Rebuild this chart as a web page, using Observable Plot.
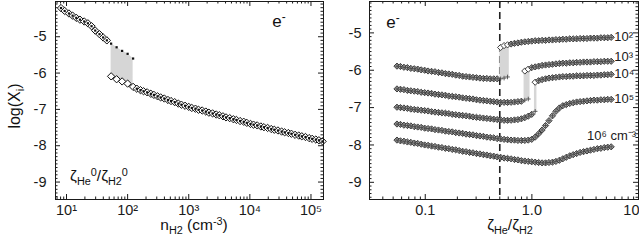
<!DOCTYPE html>
<html><head><meta charset="utf-8">
<script src="https://cdn.jsdelivr.net/npm/d3@7"></script>
<script src="https://cdn.jsdelivr.net/npm/@observablehq/plot@0.6"></script>
<style>
html,body{margin:0;padding:0;background:#fff;overflow:hidden}
#wrap{position:relative;width:639px;height:243px;font-family:"Liberation Sans",Arial,sans-serif;color:#111;overflow:hidden}
#wrap svg{position:absolute;top:0}
.lbl{position:absolute;white-space:nowrap;line-height:1;transform:translate(-50%,-50%)}
.sb{font-size:0.7em;position:relative;top:0.38em}
.sp{font-size:0.7em;position:relative;top:-0.48em}
</style></head><body><div id="wrap"></div>
<script>
// ---------- LEFT PANEL DATA: log10(n_H2) and log(X_e) ----------
const nUpperLog = [0.91, 0.97, 1.04, 1.10, 1.16, 1.22, 1.29, 1.35, 1.41, 1.47, 1.54, 1.60, 1.66];
const xeUpper   = [-4.21, -4.29, -4.36, -4.42, -4.48, -4.53, -4.58, -4.63, -4.71, -4.83, -4.93, -5.02, -5.10];
const nBistLog  = [1.73, 1.82, 1.91, 2.00, 2.09];
const xeBistHigh = [-5.19, -5.29, -5.39, -5.47, -5.60];
const xeBistLow  = [-6.09, -6.17, -6.23, -6.29, -6.38];
const nLowerLog = [2.15, 2.21, 2.26, 2.32, 2.38, 2.43, 2.49, 2.54, 2.60, 2.66, 2.71, 2.77, 2.83, 2.88, 2.94, 3.00, 3.05, 3.11, 3.16, 3.22, 3.28, 3.33, 3.39, 3.45, 3.50, 3.56, 3.61, 3.67, 3.73, 3.78, 3.84, 3.90, 3.95, 4.01, 4.06, 4.12, 4.18, 4.23, 4.29, 4.35, 4.40, 4.46, 4.52, 4.57, 4.63, 4.68, 4.74, 4.80, 4.85, 4.91, 4.97, 5.02, 5.08, 5.13, 5.19];
const xeLower   = [-6.43, -6.47, -6.50, -6.53, -6.57, -6.60, -6.64, -6.67, -6.70, -6.74, -6.77, -6.80, -6.84, -6.87, -6.90, -6.93, -6.96, -6.98, -7.01, -7.03, -7.06, -7.09, -7.11, -7.14, -7.16, -7.19, -7.22, -7.24, -7.27, -7.29, -7.32, -7.34, -7.37, -7.40, -7.42, -7.44, -7.47, -7.49, -7.51, -7.54, -7.56, -7.58, -7.61, -7.63, -7.65, -7.67, -7.70, -7.72, -7.74, -7.76, -7.79, -7.81, -7.83, -7.85, -7.88];

// ---------- RIGHT PANEL DATA: zeta_He/zeta_H2 and log(X_e) per n_H2 ----------
const zeta = [0.0543, 0.0585, 0.0631, 0.068, 0.0732, 0.0789, 0.085, 0.0916, 0.0987, 0.1063, 0.1146, 0.1234, 0.133, 0.1433, 0.1544, 0.1663, 0.1792, 0.1931, 0.2081, 0.2242, 0.2415, 0.2602, 0.2804, 0.3021, 0.3255, 0.3508, 0.3779, 0.4072, 0.4388, 0.4728, 0.5093, 0.5488, 0.5913, 0.6371, 0.6865, 0.7396, 0.7969, 0.8587, 0.9252, 0.9968, 1.074, 1.157, 1.247, 1.343, 1.447, 1.56, 1.68, 1.811, 1.951, 2.102, 2.265, 2.44, 2.629, 2.833, 3.052, 3.289, 3.543, 3.818, 4.114, 4.433, 4.775, 5.145, 5.544];
const e2Low  = [-5.89, -5.90, -5.92, -5.93, -5.95, -5.96, -5.97, -5.99, -6.00, -6.02, -6.03, -6.04, -6.06, -6.07, -6.09, -6.10, -6.11, -6.13, -6.14, -6.16, -6.17, -6.18, -6.19, -6.20, -6.21, -6.22, -6.22, -6.23, -6.23, -6.23, -6.23, -6.21, -6.18];
const e2High = [-5.39, -5.34, -5.32, -5.30, -5.28, -5.27, -5.25, -5.24, -5.23, -5.22, -5.21, -5.21, -5.20, -5.20, -5.19, -5.19, -5.18, -5.18, -5.17, -5.17, -5.16, -5.16, -5.16, -5.15, -5.15, -5.15, -5.14, -5.14, -5.14, -5.13, -5.13, -5.13, -5.12];
const e3Low  = [-6.50, -6.51, -6.52, -6.54, -6.55, -6.56, -6.57, -6.59, -6.60, -6.61, -6.62, -6.64, -6.65, -6.66, -6.67, -6.69, -6.70, -6.71, -6.72, -6.74, -6.75, -6.76, -6.77, -6.79, -6.80, -6.81, -6.82, -6.83, -6.84, -6.85, -6.86, -6.86, -6.86, -6.86, -6.85, -6.84, -6.83, -6.80, -6.77];
const e3High = [-6.02, -5.97, -5.93, -5.91, -5.89, -5.87, -5.86, -5.85, -5.84, -5.83, -5.82, -5.81, -5.81, -5.80, -5.80, -5.79, -5.79, -5.78, -5.78, -5.78, -5.77, -5.77, -5.77, -5.76, -5.76, -5.76];
const e4Low  = [-6.99, -7.00, -7.01, -7.02, -7.04, -7.05, -7.06, -7.07, -7.08, -7.09, -7.11, -7.12, -7.13, -7.14, -7.15, -7.16, -7.18, -7.19, -7.20, -7.21, -7.22, -7.23, -7.25, -7.26, -7.27, -7.28, -7.29, -7.30, -7.31, -7.32, -7.33, -7.34, -7.34, -7.34, -7.33, -7.32, -7.30, -7.27, -7.23, -7.18, -7.10];
const e4High = [-6.32, -6.28, -6.25, -6.23, -6.21, -6.20, -6.19, -6.18, -6.17, -6.17, -6.16, -6.16, -6.15, -6.15, -6.15, -6.14, -6.14, -6.14, -6.13, -6.13, -6.12, -6.12, -6.11];
const e5 = [-7.44, -7.45, -7.47, -7.48, -7.49, -7.51, -7.52, -7.53, -7.55, -7.56, -7.57, -7.59, -7.60, -7.61, -7.63, -7.64, -7.65, -7.67, -7.68, -7.69, -7.71, -7.72, -7.73, -7.75, -7.76, -7.77, -7.79, -7.80, -7.81, -7.83, -7.84, -7.85, -7.86, -7.87, -7.87, -7.88, -7.88, -7.88, -7.87, -7.85, -7.79, -7.70, -7.60, -7.48, -7.35, -7.22, -7.10, -7.01, -6.95, -6.92, -6.89, -6.87, -6.85, -6.84, -6.83, -6.82, -6.81, -6.80, -6.80, -6.79, -6.79, -6.78, -6.78];
const e6 = [-7.87, -7.89, -7.90, -7.92, -7.93, -7.95, -7.96, -7.98, -8.00, -8.01, -8.03, -8.04, -8.06, -8.07, -8.09, -8.10, -8.12, -8.13, -8.15, -8.17, -8.18, -8.20, -8.21, -8.23, -8.24, -8.26, -8.27, -8.29, -8.30, -8.32, -8.33, -8.35, -8.36, -8.37, -8.39, -8.40, -8.42, -8.43, -8.44, -8.45, -8.46, -8.47, -8.48, -8.48, -8.47, -8.46, -8.44, -8.41, -8.37, -8.33, -8.29, -8.26, -8.23, -8.20, -8.18, -8.16, -8.14, -8.12, -8.10, -8.09, -8.07, -8.06, -8.05];
// index on the zeta grid where the upper branch begins (diamond solution) and where the second (+) solution joins it
const highStart = [30, 37, 40];
const plusJoin  = [33, 39, 41];
const curveLabels = ["10²", "10³", "10⁴", "10⁵", "10⁶ cm⁻³"];
const zetaCrit = [0.5];

// ---------- TICKS ----------
const nTickValues = [1e1, 1e2, 1e3, 1e4, 1e5];
const nTickLabels = ["10¹", "10²", "10³", "10⁴", "10⁵"];
const zTickValues = [0.1, 1, 10];
const zTickLabels = ["0.1", "1.0", "10"];
const yTickValues = [-9, -8, -7, -6, -5];
const yTickLabels = ["-9", "-8", "-7", "-6", "-5"];

// ---------- build rows ----------
const leftDiamonds = [
  ...d3.zip(nUpperLog, xeUpper),
  ...d3.zip(nBistLog, xeBistLow),
  ...d3.zip(nLowerLog, xeLower)
].map(([l, v]) => ({n: 10 ** l, v}));
const leftDots = [
  ...d3.zip(nUpperLog, xeUpper),
  ...d3.zip(nBistLog, xeBistHigh),
  ...d3.zip(nLowerLog, xeLower)
].map(([l, v]) => ({n: 10 ** l, v}));
const leftBand = d3.zip(nBistLog, xeBistLow, xeBistHigh).map(([l, lo, hi]) => ({n: 10 ** l, lo, hi}));

const bist = [[e2Low, e2High], [e3Low, e3High], [e4Low, e4High]];
const rDiamonds = [], rPlus = [], rBand = [], rEnds = [];
bist.forEach(([low, high], c) => {
  const hs = highStart[c], pj = plusJoin[c];
  zeta.forEach((z, k) => {
    const both = !(k >= hs && k < pj);
    rDiamonds.push({z, v: k >= hs ? high[k - hs] : low[k], c, both});
    rPlus.push({z, v: k >= pj ? high[k - hs] : low[k], c});
    if (!both) rBand.push({z, lo: low[k], hi: high[k - hs], c});
  });
  rEnds.push({z: zeta[zeta.length - 1], v: high[high.length - 1], t: curveLabels[c]});
});
[e5, e6].forEach((arr, i) => {
  zeta.forEach((z, k) => { rDiamonds.push({z, v: arr[k], c: 3 + i, both: true}); rPlus.push({z, v: arr[k], c: 3 + i}); });
});
rEnds.push({z: zeta[zeta.length - 1], v: e5[e5.length - 1], t: curveLabels[3]});
rEnds.push({z: zeta[zeta.length - 1], v: e6[e6.length - 1], t: curveLabels[4]});

// ---------- helpers ----------
const ink = "#1a1a1a";
function frameTicks(xDomain, xMajor, yDomain, fw, fh) {
  const xMinor = d3.scaleLog().domain(xDomain).ticks().filter(t => !xMajor.some(m => Math.abs(m - t) / m < 1e-9) && t >= xDomain[0] && t <= xDomain[1]);
  const yMinor = d3.ticks(yDomain[0], yDomain[1], 60).filter(t => Math.abs(t - Math.round(t)) > 1e-6);
  const yMajor = d3.ticks(yDomain[0], yDomain[1], 6).filter(t => Math.abs(t - Math.round(t)) < 1e-6);
  const s = {stroke: ink, strokeWidth: 1};
  const big = 5, small = 2.5;
  return [
    Plot.tickX(xMajor, {x: d => d, insetTop: fh - big, ...s}),
    Plot.tickX(xMajor, {x: d => d, insetBottom: fh - big, ...s}),
    Plot.tickX(xMinor, {x: d => d, insetTop: fh - small, ...s}),
    Plot.tickX(xMinor, {x: d => d, insetBottom: fh - small, ...s}),
    Plot.tickY(yMajor, {y: d => d, insetRight: fw - big, ...s}),
    Plot.tickY(yMajor, {y: d => d, insetLeft: fw - big, ...s}),
    Plot.tickY(yMinor, {y: d => d, insetRight: fw - small, ...s}),
    Plot.tickY(yMinor, {y: d => d, insetLeft: fw - small, ...s}),
    Plot.frame({stroke: ink, strokeWidth: 1})
  ];
}
const style = {fontFamily: '"Liberation Sans", Arial, sans-serif', fontSize: "14.5px", color: ink, background: "transparent"};
const TF = 14.5;

// ---------- LEFT PLOT ----------
const H = 243, mT = 1, mB = 44;
const nDomain = [10 ** 0.82, 10 ** 5.205];
const yDomL = [-9.48, -4.03];
const left = Plot.plot({
  width: 330, height: H, marginLeft: 55, marginRight: 7, marginTop: mT, marginBottom: mB,
  x: {type: "log", domain: nDomain},
  y: {domain: yDomL},
  style,
  marks: [
    Plot.areaY(leftBand, {x: "n", y1: "lo", y2: "hi", fill: "#d6d6d6"}),
    Plot.dot(leftDiamonds, {x: "n", y: "v", symbol: "diamond2", r: 3.3, fill: "white", stroke: "#111", strokeWidth: 1}),
    Plot.dot(leftDots, {x: "n", y: "v", symbol: "square", r: 1.25, fill: "#111", stroke: "none"}),
    ...frameTicks(nDomain, nTickValues, yDomL, 268, H - mT - mB),
    Plot.axisX(nTickValues, {anchor: "bottom", tickSize: 0, tickPadding: 5, label: null, fontSize: TF, tickFormat: d => nTickLabels[nTickValues.indexOf(d)]}),
    Plot.axisY(yTickValues, {anchor: "left", tickSize: 0, tickPadding: 9, label: null, fontSize: TF, tickFormat: d => yTickLabels[yTickValues.indexOf(d)]})
  ]
});
left.style.left = "0px";

// ---------- RIGHT PLOT ----------
const zDomain = [0.03, 10];
const yDomR = [-9.46, -4.16];
const zIn = zTickValues.slice(0, 2), zEdge = zTickValues.slice(2);
const right = Plot.plot({
  width: 309, height: H, marginLeft: 39, marginRight: 1, marginTop: mT, marginBottom: mB,
  x: {type: "log", domain: zDomain},
  y: {domain: yDomR},
  style,
  marks: [
    Plot.ruleX(zetaCrit, {x: d => d, stroke: "#222", strokeWidth: 1.6, strokeDasharray: "7,4"}),
    Plot.areaY(rBand, {x: "z", y1: "lo", y2: "hi", z: "c", fill: "#d6d6d6"}),
    Plot.ruleX(rBand, {x: "z", y1: "lo", y2: "hi", stroke: "#d6d6d6", strokeWidth: 2.5}),
    Plot.dot(rDiamonds, {x: "z", y: "v", symbol: "diamond2", r: 2.8, fill: d => d.both ? "#b4b4b4" : "white", stroke: "#2a2a2a", strokeWidth: 0.9}),
    Plot.dot(rPlus, {x: "z", y: "v", symbol: "plus", r: 1.6, stroke: "#4a4a4a", strokeWidth: 0.9}),
    Plot.text(rEnds.slice(0, 1), {x: "z", y: "v", text: "t", textAnchor: "start", dx: 3, dy: -1, fontSize: 13, fill: ink}),
    Plot.text(rEnds.slice(1, 2), {x: "z", y: "v", text: "t", textAnchor: "start", dx: 3, dy: -4, fontSize: 13, fill: ink}),
    Plot.text(rEnds.slice(2, 3), {x: "z", y: "v", text: "t", textAnchor: "start", dx: 3, dy: -1, fontSize: 13, fill: ink}),
    Plot.text(rEnds.slice(3, 4), {x: "z", y: "v", text: "t", textAnchor: "start", dx: 3, dy: -1, fontSize: 13, fill: ink}),
    Plot.text(rEnds.slice(4, 5), {x: "z", y: "v", text: "t", textAnchor: "end", dx: 25, dy: -11, fontSize: 13, fill: ink}),
    ...frameTicks(zDomain, zTickValues, yDomR, 269, H - mT - mB),
    Plot.axisX(zIn, {anchor: "bottom", tickSize: 0, tickPadding: 5, label: null, fontSize: TF, tickFormat: d => zTickLabels[zTickValues.indexOf(d)]}),
    Plot.axisX(zEdge, {anchor: "bottom", tickSize: 0, tickPadding: 5, label: null, fontSize: TF, textAnchor: "end", dx: 1, tickFormat: d => zTickLabels[zTickValues.indexOf(d)]}),
    Plot.axisY(yTickValues, {anchor: "left", tickSize: 0, tickPadding: 8, label: null, fontSize: TF, tickFormat: d => yTickLabels[yTickValues.indexOf(d)]})
  ]
});
right.style.left = "330px";

const wrap = document.getElementById("wrap");
wrap.appendChild(left);
wrap.appendChild(right);

// ---------- text labels (titles) ----------
const labels = [
  {html: 'log(X<span class="sb">i</span>)', x: 15, y: 106, size: 16, rot: true},
  {html: 'n<span class="sb">H2</span> (cm<span class="sp">-3</span>)', x: 194, y: 225, size: 15.5},
  {html: 'ζ<span class="sb">He</span>/ζ<span class="sb">H2</span>', x: 510, y: 225, size: 15.5},
  {html: 'ζ<span class="sb">He</span><span class="sp">0</span>/ζ<span class="sb">H2</span><span class="sp">0</span>', x: 99, y: 176, size: 15.5},
  {html: 'e<span class="sp">-</span>', x: 279, y: 21, size: 17},
  {html: 'e<span class="sp">-</span>', x: 393, y: 22, size: 17}
];
for (const l of labels) {
  const d = document.createElement("div");
  d.className = "lbl";
  d.innerHTML = l.html;
  d.style.left = l.x + "px";
  d.style.top = l.y + "px";
  d.style.fontSize = l.size + "px";
  if (l.rot) d.style.transform = "translate(-50%,-50%) rotate(-90deg)";
  wrap.appendChild(d);
}
</script>
</body></html>
